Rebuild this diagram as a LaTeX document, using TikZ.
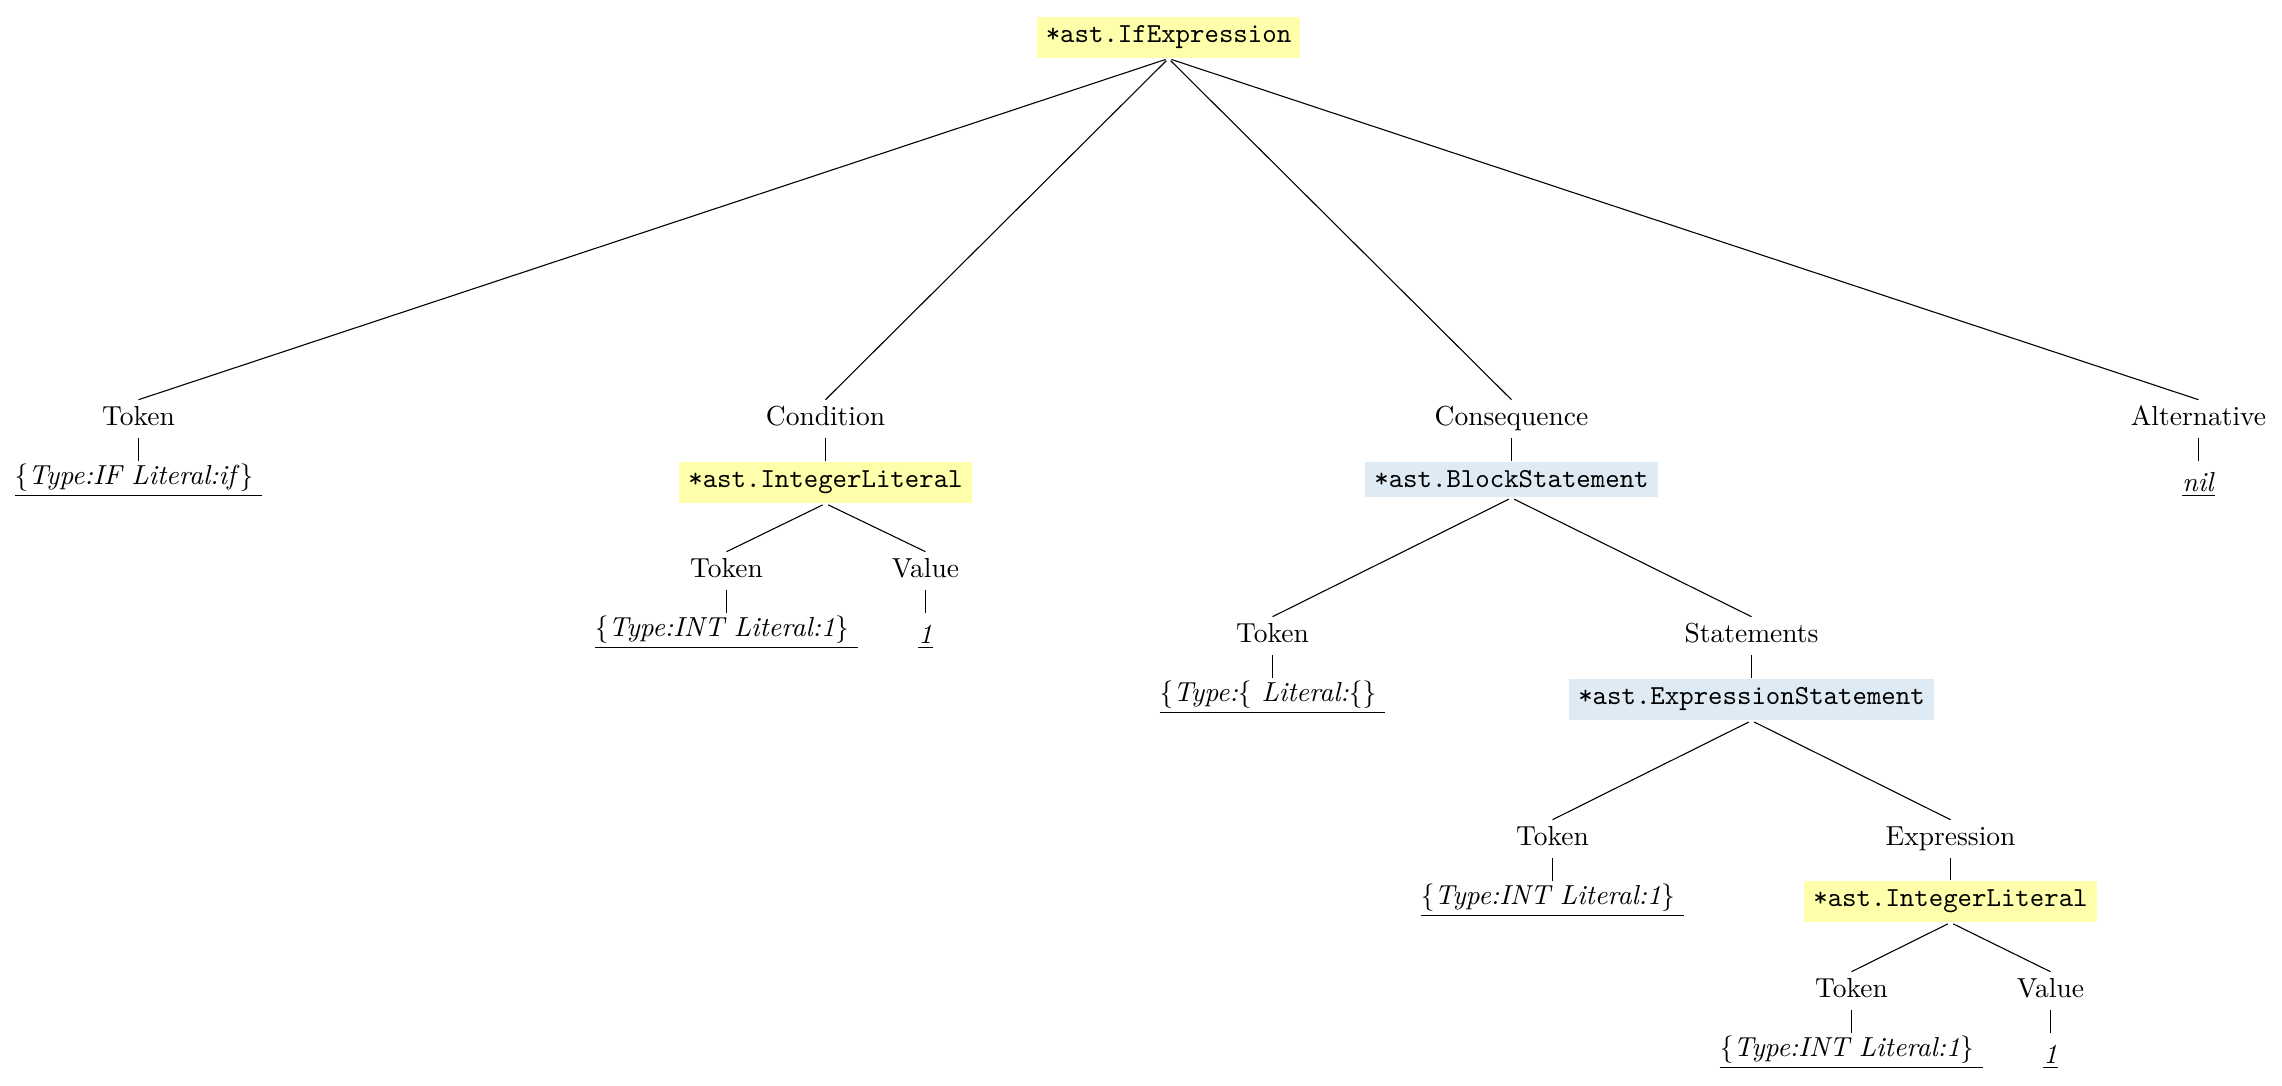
\documentclass[tikz,border=0pt]{standalone}
\definecolor{exprfill}{rgb}{1,1,0.67}
\definecolor{stmtfill}{rgb}{0.87,0.92,0.96}
\tikzset{
  lbl/.style={inner sep=0pt, text height=9pt, text depth=4.6pt, anchor=base},
  astbox/.style={anchor=north, inner sep=0.3333em, font=\ttfamily},
  exprbox/.style={astbox, fill=exprfill},
  stmtbox/.style={astbox, fill=stmtfill},
  structleaf/.style={anchor=north, inner sep=0pt, text height=8.4pt},
  valleaf/.style={anchor=north, inner sep=0pt, text height=10.9pt},
  branch/.style={line width=0.4pt},
  boxbranch/.style={branch, shorten <=1.1pt},
}
\newcommand{\tokstruct}[1]{\underline{$\{$\textit{#1}$\}$ }}
\begin{document}
\begin{tikzpicture}[x=0.363636pt, y=-0.363636pt]
\useasboundingbox (0,0) rectangle (2282,1085);

% root
\node[exprbox] (root) at (1168.5,16) {*ast.IfExpression};

% first level fields
\node[lbl] (tok1) at (138.5,425) {Token};
\node[lbl] (cond) at (825.5,425) {Condition};
\node[lbl] (cons) at (1511.5,425) {Consequence};
\node[lbl] (alt) at (2198.5,425) {Alternative};

\node[structleaf] (tok1v) at (138.5,461) {\tokstruct{Type:IF Literal:if}};
\node[valleaf] (altv) at (2198.5,461) {\underline{\textit{nil}}};

% condition subtree
\node[exprbox] (intlitA) at (825.5,461) {*ast.IntegerLiteral};
\node[lbl] (tok2) at (726.5,577) {Token};
\node[lbl] (val2) at (925.5,577) {Value};
\node[structleaf] (tok2v) at (726.5,613) {\tokstruct{Type:INT Literal:1}};
\node[valleaf] (val2v) at (925.5,613) {\underline{\textit{1}}};

% consequence subtree
\node[stmtbox] (block) at (1511.5,461) {*ast.BlockStatement};
\node[lbl] (tok3) at (1272.5,642) {Token};
\node[lbl] (stmts) at (1751.5,642) {Statements};
\node[structleaf] (tok3v) at (1272.5,678) {\underline{$\{$\textit{Type:}$\{$\textit{ Literal:}$\{\}$ }};

\node[stmtbox] (exprstmt) at (1751.5,678) {*ast.ExpressionStatement};
\node[lbl] (tok4) at (1552.5,845) {Token};
\node[lbl] (expr) at (1950.5,845) {Expression};
\node[structleaf] (tok4v) at (1552.5,881) {\tokstruct{Type:INT Literal:1}};

\node[exprbox] (intlitB) at (1950.5,880) {*ast.IntegerLiteral};
\node[lbl] (tok5) at (1851.5,997) {Token};
\node[lbl] (val5) at (2050.5,997) {Value};
\node[structleaf] (tok5v) at (1851.5,1033) {\tokstruct{Type:INT Literal:1}};
\node[valleaf] (val5v) at (2050.5,1033) {\underline{\textit{1}}};

% connectors
\draw[boxbranch] (root.south) -- (tok1.north);
\draw[boxbranch] (root.south) -- (cond.north);
\draw[boxbranch] (root.south) -- (cons.north);
\draw[boxbranch] (root.south) -- (alt.north);

\draw[branch] (tok1.south) -- (tok1v.north);
\draw[branch] (alt.south) -- (altv.north);

\draw[branch] (cond.south) -- (intlitA.north);
\draw[boxbranch] (intlitA.south) -- (tok2.north);
\draw[boxbranch] (intlitA.south) -- (val2.north);
\draw[branch] (tok2.south) -- (tok2v.north);
\draw[branch] (val2.south) -- (val2v.north);

\draw[branch] (cons.south) -- (block.north);
\draw[boxbranch] (block.south) -- (tok3.north);
\draw[boxbranch] (block.south) -- (stmts.north);
\draw[branch] (tok3.south) -- (tok3v.north);
\draw[branch] (stmts.south) -- (exprstmt.north);

\draw[boxbranch] (exprstmt.south) -- (tok4.north);
\draw[boxbranch] (exprstmt.south) -- (expr.north);
\draw[branch] (tok4.south) -- (tok4v.north);
\draw[branch] (expr.south) -- (intlitB.north);

\draw[boxbranch] (intlitB.south) -- (tok5.north);
\draw[boxbranch] (intlitB.south) -- (val5.north);
\draw[branch] (tok5.south) -- (tok5v.north);
\draw[branch] (val5.south) -- (val5v.north);
\end{tikzpicture}
\end{document}
